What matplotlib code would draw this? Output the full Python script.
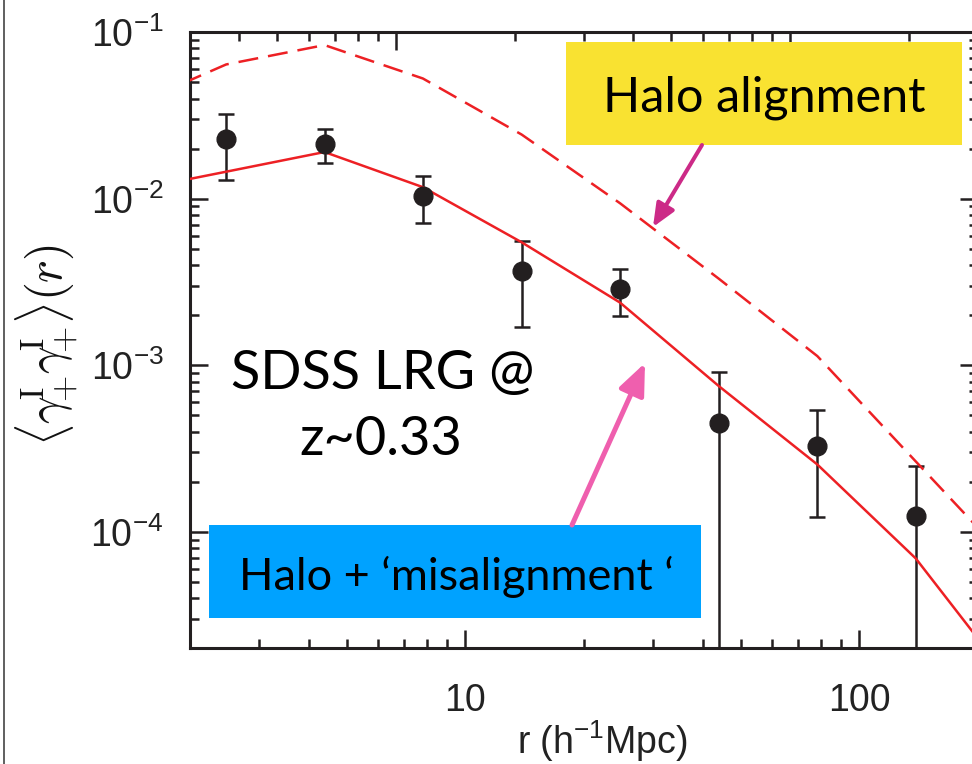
import matplotlib
matplotlib.use('Agg')
import matplotlib.pyplot as plt
from matplotlib.patches import Rectangle, FancyArrowPatch, ArrowStyle
from matplotlib.lines import Line2D
from matplotlib.ticker import LogLocator, FixedLocator, FuncFormatter, NullFormatter
import numpy as np

plt.rcParams['mathtext.fontset'] = 'custom'
plt.rcParams['mathtext.rm'] = 'Liberation Sans'
plt.rcParams['mathtext.it'] = 'Liberation Sans:italic'
plt.rcParams['font.family'] = ['Liberation Sans', 'DejaVu Sans']

# ---------------- data ----------------
r_data = [2.47, 4.39, 7.80, 13.9, 24.7, 44.0, 78.2, 139.0]
xi_data = [0.0228, 0.0212, 0.0104, 0.00367, 0.00289, 0.000451, 0.000327, 0.000124]
xi_upper = [0.0325, 0.0262, 0.0137, 0.00561, 0.00379, 0.000914, 0.000536, 0.000250]
xi_lower = [0.0130, 0.0164, 0.00713, 0.00169, 0.00198, 1e-6, 0.000123, 1e-6]

r_model = [1.39, 2.47, 4.39, 7.80, 13.9, 24.7, 44.0, 78.2, 139.0, 247.0]
xi_halo = [0.0354, 0.0641, 0.0838, 0.0528, 0.0243, 0.0094, 0.00331, 0.001137, 0.000265, 0.000062]
xi_misalign = [0.0111, 0.01455, 0.0191, 0.01175, 0.00548, 0.00238, 0.00075, 0.000254, 0.0000693, 0.000012]

x_major_ticks = [10, 100]
x_tick_labels = ['10', '100']

label_top = 'Halo alignment'
label_bottom = 'Halo + \u2018misalignment \u2018'
sample_lines = ['SDSS LRG @', 'z~0.33']

# ---------------- figure ----------------
W, H = 972, 764
fig = plt.figure(figsize=(W / 100, H / 100), dpi=100)


def fx(px):
    return px / W


def fy(py):
    return 1 - py / H


ink = '#231f20'
red = '#ed2024'

ax = fig.add_axes([fx(190), fy(648.3), (978 - 190) / W, (648.3 - 32.3) / H])
ax.set_xscale('log')
ax.set_yscale('log')
ax.set_xlim(2, 200)
ax.set_ylim(2e-5, 0.1)

ax.plot(r_model, xi_halo, color=red, lw=1.8, ls=(0, (8, 4)), zorder=3)
ax.plot(r_model, xi_misalign, color=red, lw=1.8, zorder=3)
xd = np.array(xi_data)
yerr = [xd - np.array(xi_lower), np.array(xi_upper) - xd]
ax.errorbar(r_data, xi_data, yerr=yerr, fmt='none', ecolor=ink, elinewidth=1.8,
            capsize=6, capthick=1.8, zorder=2)
ax.plot(r_data, xi_data, 'o', color=ink, ms=13.5, zorder=4)

for s in ax.spines.values():
    s.set_linewidth(2.2)
    s.set_color(ink)

ax.xaxis.set_major_locator(FixedLocator(x_major_ticks))
ax.set_xticklabels(x_tick_labels)
ax.xaxis.set_minor_locator(LogLocator(base=10, subs=range(2, 10), numticks=100))
ax.xaxis.set_minor_formatter(NullFormatter())
ax.yaxis.set_major_locator(LogLocator(base=10, numticks=20))
ax.yaxis.set_minor_locator(LogLocator(base=10, subs=range(2, 10), numticks=100))
ax.yaxis.set_minor_formatter(NullFormatter())
ax.yaxis.set_major_formatter(FuncFormatter(
    lambda v, p: r'$\mathregular{10^{%d}}$' % int(round(np.log10(v)))))

ax.tick_params(which='both', direction='in', top=False, right=True, color=ink, width=1.8,
               labelcolor='#222222')
ax.tick_params(which='major', length=13, labelsize=27)
ax.tick_params(which='minor', length=6.5)
ax.tick_params(axis='y', which='major', pad=19)
ax.tick_params(axis='x', which='major', pad=25)

# top axis with its own (shifted) tick positions
axt = ax.twiny()
axt.set_xscale('log')
axt.set_xlim(3, 300)
axt.xaxis.set_major_locator(FixedLocator([10, 100]))
axt.xaxis.set_minor_locator(LogLocator(base=10, subs=range(2, 10), numticks=100))
axt.tick_params(which='both', direction='in', color=ink, width=1.8, labeltop=False)
axt.tick_params(which='major', length=13)
axt.tick_params(which='minor', length=6.5)
for s in axt.spines.values():
    s.set_visible(False)

ax.set_xlabel(r'r (h$^{\mathregular{-1}}$Mpc)', fontsize=27, color='#222222', va='baseline')
ax.xaxis.set_label_coords((602 - 190) / 788, (648.3 - 754) / 616)
ax.set_ylabel(r'$\langle\gamma^{\!\rm I}_{\!\!+}\!\gamma^{\!\rm I}_{\!\!+}\!\rangle(r)$', fontsize=35,
              math_fontfamily='cm', color='#111111', va='center', ha='center')
ax.yaxis.set_label_coords((47 - 190) / 788, (648.3 - 345) / 616)

# text boxes
fig.add_artist(Rectangle((fx(566), fy(145)), (962 - 566) / W, (145 - 42) / H,
                         transform=fig.transFigure, facecolor='#f9e231', edgecolor='none', zorder=5))
fig.text(fx(764), fy(111.7), label_top, ha='center', va='baseline', fontsize=35,
         family='Lato', color='black', zorder=6)

fig.add_artist(Rectangle((fx(209.3), fy(618.3)), (701 - 209.3) / W, (618.3 - 525) / H,
                         transform=fig.transFigure, facecolor='#00a2ff', edgecolor='none', zorder=5))
fig.text(fx(456), fy(590), label_bottom, ha='center', va='baseline', fontsize=32.5,
         family='Lato', color='black', zorder=6)

fig.text(fx(383), fy(389), sample_lines[0], ha='center', va='baseline', fontsize=39,
         family='Lato', color='black', zorder=6)
fig.text(fx(381), fy(455), sample_lines[1], ha='center', va='baseline', fontsize=39,
         family='Lato', color='black', zorder=6)

# arrows
a1 = FancyArrowPatch((fx(702), fy(145)), (fx(653), fy(227)), transform=fig.transFigure,
                     arrowstyle=ArrowStyle('-|>', head_length=14, head_width=6),
                     mutation_scale=1, lw=2.9, color='#cc2a87', shrinkA=0, shrinkB=0, zorder=6)
fig.add_artist(a1)
a2 = FancyArrowPatch((fx(572), fy(525)), (fx(645), fy(363)), transform=fig.transFigure,
                     arrowstyle=ArrowStyle('-|>', head_length=19, head_width=8),
                     mutation_scale=1, lw=3.6, color='#ef5fae', shrinkA=0, shrinkB=0, zorder=6)
fig.add_artist(a2)

# thin slide border on the left
fig.add_artist(Line2D([fx(4.3), fx(4.3)], [0, 1], transform=fig.transFigure, color='#444444', lw=1.2))

fig.savefig('out.png', dpi=100)
